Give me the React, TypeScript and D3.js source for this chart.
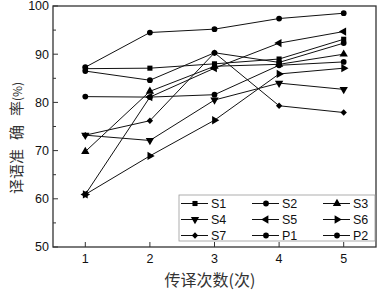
import React from "react";
import * as d3 from "d3";

const passes = [1, 2, 3, 4, 5];
const seriesNames = ["S1", "S2", "S3", "S4", "S5", "S6", "S7", "P1", "P2"];
const S1 = [87.0, 87.1, 88.0, 89.0, 93.1];
const S2 = [86.5, 84.6, 90.3, 88.3, 92.3];
const S3 = [69.8, 82.3, 87.5, 87.9, 90.0];
const S4 = [73.2, 72.1, 80.5, 84.0, 82.7];
const S5 = [60.9, 81.1, 87.1, 92.3, 94.7];
const S6 = [60.9, 68.9, 76.3, 85.9, 87.1];
const S7 = [73.2, 76.2, 90.3, 79.3, 77.9];
const P1 = [81.2, 81.1, 81.6, 87.7, 88.4];
const P2 = [87.3, 94.5, 95.2, 97.4, 98.5];
const markers = ["square", "circle", "up", "down", "left", "right", "diamond", "circle", "circle"];
const yTicks = [50, 60, 70, 80, 90, 100];
const yMinor = [55, 65, 75, 85, 95];

const allSeries = [S1, S2, S3, S4, S5, S6, S7, P1, P2];

function symbolPath(kind: string) {
  switch (kind) {
    case "square":
      return { d: d3.symbol(d3.symbolSquare, 26)() as string, rot: 0 };
    case "circle":
      return { d: d3.symbol(d3.symbolCircle, 26)() as string, rot: 0 };
    case "up":
      return { d: d3.symbol(d3.symbolTriangle, 30)() as string, rot: 0 };
    case "down":
      return { d: d3.symbol(d3.symbolTriangle, 30)() as string, rot: 180 };
    case "left":
      return { d: d3.symbol(d3.symbolTriangle, 30)() as string, rot: -90 };
    case "right":
      return { d: d3.symbol(d3.symbolTriangle, 30)() as string, rot: 90 };
    default:
      return { d: d3.symbol(d3.symbolSquare, 20)() as string, rot: 45 };
  }
}

export default function App() {
  const W = 378, H = 291;
  const left = 53, right = 376, top = 6, bottom = 247;
  const x = d3.scaleLinear().domain([0.5, 5.5]).range([left, right]);
  const y = d3.scaleLinear().domain([50, 100]).range([bottom, top]);
  const line = d3
    .line<number>()
    .x((_, i) => x(passes[i]))
    .y((d) => y(d));
  const font = "Arial, 'Liberation Sans', sans-serif";
  const cjk = "'Noto Sans CJK SC', sans-serif";

  const legX0 = 181, legColW = 71, legY0 = 203.5, legRowH = 16;

  return (
    <svg
      width={W}
      height={H}
      style={{ position: "absolute", left: 0, top: 0, background: "#fff" }}
    >
      <rect x={0} y={0} width={W} height={H} fill="#fff" />
      {allSeries.map((s, k) => (
        <path key={"l" + k} d={line(s) as string} fill="none" stroke="#111" strokeWidth={1} />
      ))}
      {allSeries.map((s, k) => {
        const sp = symbolPath(markers[k]);
        return s.map((v, i) => (
          <path
            key={"m" + k + "-" + i}
            d={sp.d}
            transform={`translate(${x(passes[i])},${y(v)}) rotate(${sp.rot})`}
            fill="#000"
          />
        ));
      })}
      <rect x={left} y={top} width={right - left} height={bottom - top} fill="none" stroke="#333" strokeWidth={1.3} />
      {yTicks.map((t) => (
        <g key={"yt" + t}>
          <line x1={left} x2={left + 5} y1={y(t)} y2={y(t)} stroke="#333" strokeWidth={1} />
          <text x={49} y={y(t)} dy="0.35em" textAnchor="end" fontFamily={font} fontSize={12.5} fill="#111">
            {t}
          </text>
        </g>
      ))}
      {yMinor.map((t) => (
        <line key={"ym" + t} x1={left} x2={left + 3} y1={y(t)} y2={y(t)} stroke="#333" strokeWidth={1} />
      ))}
      {passes.map((p) => (
        <g key={"xt" + p}>
          <line x1={x(p)} x2={x(p)} y1={bottom} y2={bottom - 5} stroke="#333" strokeWidth={1} />
          <text x={x(p)} y={262.5} textAnchor="middle" fontFamily={font} fontSize={12.5} fill="#111">
            {p}
          </text>
        </g>
      ))}
      <rect x={179} y={195} width={196} height={46} fill="#fff" stroke="#999" strokeWidth={0.8} />
      {seriesNames.map((name, k) => {
        const col = k % 3, row = Math.floor(k / 3);
        const lx = legX0 + col * legColW;
        const ly = legY0 + row * legRowH;
        const sp = symbolPath(markers[k]);
        return (
          <g key={"lg" + k}>
            <line x1={lx} x2={lx + 27} y1={ly} y2={ly} stroke="#111" strokeWidth={1} />
            <path d={sp.d} transform={`translate(${lx + 14},${ly}) rotate(${sp.rot})`} fill="#000" />
            <text x={lx + 30} y={ly} dy="0.36em" fontFamily={font} fontSize={12.5} fill="#111">
              {name}
            </text>
          </g>
        );
      })}
      <text
        transform={`translate(22,138) rotate(-90)`}
        textAnchor="middle"
        fontFamily={cjk}
        fontSize={15}
        fill="#333"
      >
        <tspan>译语准</tspan>
        <tspan dx={9}>确</tspan>
        <tspan dx={9}>率</tspan>
        <tspan fontSize={12}>(%)</tspan>
      </text>
      <text x={210} y={286} textAnchor="middle" fontFamily={cjk} fontSize={16} fill="#333">
        传译次数(次)
      </text>
    </svg>
  );
}
